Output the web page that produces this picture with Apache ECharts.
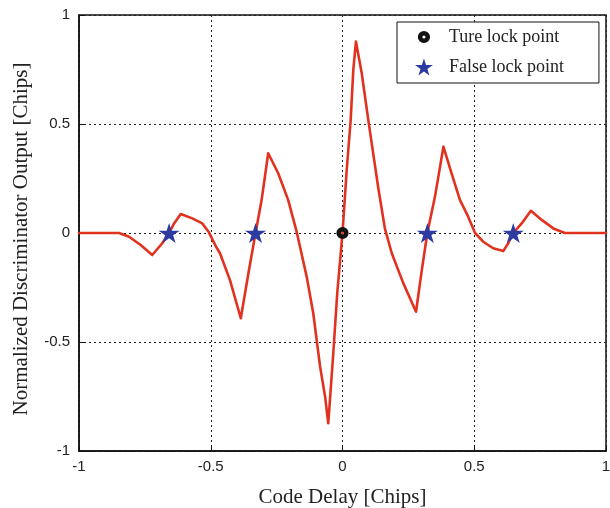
<!DOCTYPE html>
<html>
<head>
<meta charset="utf-8">
<script src="https://cdn.jsdelivr.net/npm/echarts@6/dist/echarts.min.js"></script>
<style>html,body{margin:0;padding:0;background:#fff;overflow:hidden;}#c{width:610px;height:508px;}</style>
</head>
<body>
<div id="c"></div>
<script>
// Discriminator curve (Code Delay [Chips] -> Normalized Output)
const delayX = [-1, -0.848, -0.81, -0.766, -0.722, -0.684, -0.658, -0.639, -0.614, -0.57, -0.532, -0.507, -0.481, -0.465, -0.427, -0.386, -0.357, -0.33, -0.307, -0.282, -0.244, -0.206, -0.174, -0.136, -0.111, -0.085, -0.066, -0.054, -0.035, -0.02, 0, 0.016, 0.031, 0.041, 0.051, 0.073, 0.098, 0.111, 0.136, 0.161, 0.187, 0.231, 0.279, 0.301, 0.322, 0.351, 0.383, 0.414, 0.446, 0.477, 0.503, 0.534, 0.572, 0.61, 0.629, 0.648, 0.68, 0.715, 0.756, 0.8, 0.844, 1];
const outputY = [0, 0, -0.017, -0.055, -0.101, -0.047, 0, 0.044, 0.087, 0.067, 0.044, 0.003, -0.06, -0.093, -0.216, -0.391, -0.185, 0, 0.151, 0.366, 0.274, 0.151, 0.006, -0.2, -0.368, -0.613, -0.751, -0.873, -0.552, -0.277, 0, 0.289, 0.518, 0.748, 0.878, 0.733, 0.518, 0.41, 0.205, 0.02, -0.093, -0.231, -0.361, -0.17, 0, 0.167, 0.396, 0.274, 0.151, 0.075, 0, -0.04, -0.07, -0.083, -0.047, 0, 0.044, 0.102, 0.06, 0.021, 0, 0];
const trueLockX = [0];
const trueLockY = [0];
const falseLockX = [-0.658, -0.33, 0.322, 0.648];
const falseLockY = [0, 0, 0, 0];
const legendNames = ['Ture lock point', 'False lock point'];
const xTitle = 'Code Delay [Chips]';
const yTitle = 'Normalized Discriminator Output [Chips]';

const zip = (a, b) => a.map((v, i) => [v, b[i]]);

const chart = echarts.init(document.getElementById('c'), null, {renderer: 'canvas'});
const serif = '"Liberation Serif", "Times New Roman", serif';
const sans = '"Liberation Sans", Arial, sans-serif';
const gridLine = {show: true, lineStyle: {color: '#222', width: 1, type: [2, 3]}};
const ringPath = 'path://M0,0 M100,100 M50,14 A36,36 0 1,0 50,86 A36,36 0 1,0 50,14 Z M50,41 A9,9 0 1,1 50,59 A9,9 0 1,1 50,41 Z';
const starPath = 'path://M50,0 L61.2,34.5 L97.6,34.5 L68.2,55.9 L79.4,90.5 L50,69.1 L20.6,90.5 L31.8,55.9 L2.4,34.5 L38.8,34.5 Z';

chart.setOption({
  animation: false,
  backgroundColor: '#fff',
  grid: {left: 79, top: 15, width: 527, height: 436, show: true, borderColor: '#111', borderWidth: 1.5, backgroundColor: 'transparent', containLabel: false, outerBoundsMode: 'none'},
  xAxis: {
    type: 'value', min: -1, max: 1, interval: 0.5,
    name: xTitle, nameLocation: 'middle', nameGap: 36,
    nameTextStyle: {fontFamily: serif, fontSize: 21, color: '#222'},
    axisLine: {show: true, onZero: false, lineStyle: {color: '#111', width: 1.5}},
    axisTick: {show: true, inside: true, length: 5, lineStyle: {color: '#111'}},
    axisLabel: {fontFamily: sans, fontSize: 15, color: '#222', margin: 8},
    splitLine: gridLine
  },
  yAxis: {
    type: 'value', min: -1, max: 1, interval: 0.5,
    name: yTitle, nameLocation: 'middle', nameGap: 47,
    nameTextStyle: {fontFamily: serif, fontSize: 21, color: '#222', padding: [0, 12, 0, 0]},
    axisLine: {show: true, onZero: false, lineStyle: {color: '#111', width: 1.5}},
    axisTick: {show: true, inside: true, length: 5, lineStyle: {color: '#111'}},
    axisLabel: {fontFamily: sans, fontSize: 15, color: '#222', margin: 9},
    splitLine: gridLine
  },
  legend: {
    data: legendNames,
    orient: 'vertical', left: 397, top: 22,
    padding: [6, 35, 7, 18],
    itemWidth: 20, itemHeight: 17, itemGap: 12,
    borderColor: '#111', borderWidth: 1, backgroundColor: '#fff',
    textStyle: {fontFamily: serif, fontSize: 18, color: '#222', padding: [0, 0, 0, 10], lineHeight: 18}
  },
  series: [
    {
      type: 'line', name: 'curve', data: zip(delayX, outputY),
      showSymbol: false, symbol: 'none', smooth: false,
      lineStyle: {color: '#e0321f', width: 2.6, join: 'round', cap: 'round'}, z: 2
    },
    {
      type: 'scatter', name: legendNames[1], data: zip(falseLockX, falseLockY),
      symbol: starPath, symbolKeepAspect: true,
      symbolSize: 21, itemStyle: {color: '#2b3b9f', opacity: 1}, z: 3
    },
    {
      type: 'scatter', name: legendNames[0], data: zip(trueLockX, trueLockY),
      symbol: ringPath, symbolKeepAspect: true, symbolSize: 17,
      itemStyle: {color: '#111', opacity: 1}, z: 3
    }
  ]
});
</script>
</body>
</html>
